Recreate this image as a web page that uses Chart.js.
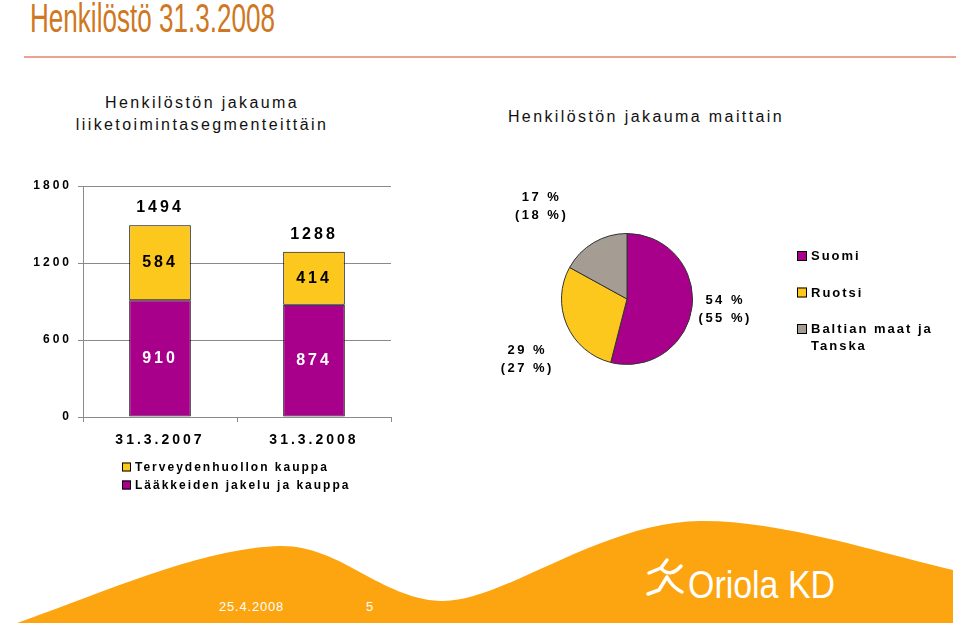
<!DOCTYPE html>
<html>
<head>
<meta charset="utf-8">
<title>Henkilöstö 31.3.2008</title>
<script src="https://cdn.jsdelivr.net/npm/chart.js"></script>
<style>
  html, body { margin: 0; padding: 0; background: #fff; }
  #slide { position: relative; width: 960px; height: 625px; overflow: hidden; font-family: "Liberation Sans", Arial, sans-serif; }
  #title { position: absolute; left: 30px; top: -2px; font-family: "Liberation Sans Narrow", "Liberation Sans", Arial, sans-serif;
           font-size: 40px; line-height: 40px; color: #CF7722; white-space: nowrap; transform-origin: 0 0; }
  #rule { position: absolute; left: 24px; top: 56px; width: 932px; height: 2px; background: #E9A192; }
  .sub { position: absolute; width: 320px; font-size: 16px; line-height: 22px; letter-spacing: 2.4px; color: #111;
         text-align: center; white-space: nowrap; }
  #footer { position: absolute; left: 0; top: 0; }
  .box { position: absolute; }
</style>
</head>
<body>
<div id="slide">
  <svg id="footer" width="960" height="625">
    <path d="M17 623 C90 598 200 548 280 546 C340 545 380 598 440 601 C500 604 600 522 700 521 C780 520 880 553 953 570 L953 623 Z" fill="#FCA510"/>
    <path d="M649 573 L661 568 L667 560 M661 568 C667 576 675 573 681 566 M667 577 L659 590 L648 594 M667 577 C671 585 676 589 682 592"
          stroke="#fff" stroke-width="3.5" fill="none" stroke-linecap="round" stroke-linejoin="round"/>
    <text x="688" y="598" font-size="38" textLength="147" lengthAdjust="spacingAndGlyphs" fill="#fff"
          font-family="'Liberation Sans Narrow', 'Liberation Sans', Arial, sans-serif">Oriola KD</text>
    <text x="219" y="611" font-size="13" letter-spacing="0.8" fill="#fff" font-family="'Liberation Sans', Arial, sans-serif">25.4.2008</text>
    <text x="366" y="611" font-size="13" fill="#fff" font-family="'Liberation Sans', Arial, sans-serif">5</text>
  </svg>

  <div id="title">Henkilöstö 31.3.2008</div>
  <div id="rule"></div>
  <div class="sub" style="left:42px; top:92px;">Henkilöstön jakauma<br>liiketoimintasegmenteittäin</div>
  <div class="sub" style="left:486px; top:106px;">Henkilöstön jakauma maittain</div>

  <div class="box" style="left:0; top:170px;"><canvas id="staffChart" width="400" height="330"></canvas></div>
  <div class="box" style="left:480px; top:170px;"><canvas id="countryChart" width="480" height="260"></canvas></div>
</div>

<script>
// numbers
const barDates = ["31.3.2007", "31.3.2008"];
const segmentNames = ["Lääkkeiden jakelu ja kauppa", "Terveydenhuollon kauppa"];
const distributionStaff = [910, 874];
const healthcareStaff = [584, 414];
const staffTicks = [0, 600, 1200, 1800];

const countryNames = [["Suomi"], ["Ruotsi"], ["Baltian maat ja", "Tanska"]];
const countryShare2008 = [54, 29, 17];
const countryShare2007 = [55, 27, 18];

const PURPLE = "#A8008A";
const YELLOW = "#FDC81E";
const GREY = "#A59C93";
const AXIS = "#8a8a8a";
const FONT = '"Liberation Sans", Arial, sans-serif';

// squeeze the title to the narrow look of the slide
const titleEl = document.getElementById("title");
titleEl.style.transform = "scaleX(" + (245 / titleEl.offsetWidth) + ")";

function spacing(ctx, px) {
  if ("letterSpacing" in ctx) ctx.letterSpacing = px;
}

const spacedTicks = {
  id: "spacedTicks",
  beforeDraw(chart) { spacing(chart.ctx, "3px"); },
  afterDraw(chart) { spacing(chart.ctx, "0px"); }
};

const barLabels = {
  id: "barLabels",
  afterDatasetsDraw(chart) {
    const ctx = chart.ctx;
    const sets = chart.data.datasets;
    ctx.save();
    spacing(ctx, "3px");
    ctx.font = "bold 16px " + FONT;
    ctx.textAlign = "center";
    sets.forEach((ds, di) => {
      chart.getDatasetMeta(di).data.forEach((bar, i) => {
        ctx.fillStyle = ds.labelColor;
        ctx.textBaseline = "middle";
        ctx.fillText(String(ds.data[i]), bar.x, (bar.y + bar.base) / 2);
      });
    });
    // totals on top of each stack
    chart.getDatasetMeta(sets.length - 1).data.forEach((bar, i) => {
      const total = sets.reduce((s, ds) => s + ds.data[i], 0);
      ctx.fillStyle = "#000";
      ctx.textBaseline = "alphabetic";
      ctx.fillText(String(total), bar.x, bar.y - 13);
    });

    // legend under the axis, top segment first
    spacing(ctx, "2px");
    ctx.font = "bold 12px " + FONT;
    ctx.textAlign = "left";
    ctx.textBaseline = "middle";
    sets.slice().reverse().forEach((ds, k) => {
      const y = chart.chartArea.bottom + 50 + k * 18;
      ctx.fillStyle = ds.backgroundColor;
      ctx.fillRect(122, y - 4.5, 9, 9);
      ctx.strokeStyle = "#000";
      ctx.lineWidth = 1;
      ctx.strokeRect(122.5, y - 4, 8, 8);
      ctx.fillStyle = "#000";
      ctx.fillText(ds.label, 135, y + 0.5);
    });
    ctx.restore();
  }
};

new Chart(document.getElementById("staffChart"), {
  type: "bar",
  data: {
    labels: barDates,
    datasets: [
      {
        label: segmentNames[0],
        data: distributionStaff,
        backgroundColor: PURPLE,
        labelColor: "#fff",
        borderColor: "#000",
        borderWidth: 1,
        borderSkipped: false,
        categoryPercentage: 1,
        barPercentage: 0.4,
      },
      {
        label: segmentNames[1],
        data: healthcareStaff,
        backgroundColor: YELLOW,
        labelColor: "#000",
        borderColor: "#000",
        borderWidth: 1,
        borderSkipped: false,
        categoryPercentage: 1,
        barPercentage: 0.4,
      },
    ],
  },
  options: {
    responsive: false,
    animation: false,
    layout: { padding: { top: 16, right: 9, left: 0, bottom: 0 } },
    plugins: { legend: { display: false }, tooltip: { enabled: false } },
    scales: {
      x: {
        stacked: true,
        grid: { drawOnChartArea: false, color: AXIS, tickLength: 5 },
        border: { color: AXIS },
        ticks: { color: "#000", font: { family: FONT, size: 14, weight: "bold" }, padding: 10 },
        afterFit: (s) => { s.height = 83; },
      },
      y: {
        stacked: true,
        min: staffTicks[0],
        max: staffTicks[staffTicks.length - 1],
        afterBuildTicks: (s) => { s.ticks = staffTicks.map((v) => ({ value: v })); },
        grid: { color: AXIS, tickLength: 5 },
        border: { color: AXIS },
        ticks: {
          color: "#000",
          font: { family: FONT, size: 12, weight: "bold" },
          padding: 6,
          callback: (v) => String(v),
        },
        afterFit: (s) => { s.width = 83; },
      },
    },
  },
  plugins: [spacedTicks, barLabels],
});

// hand-tuned shifts so the pie labels sit where the slide has them
const pieLabelNudge = [[-2, -1], [-7, 23], [-34, -12]];

const pieLabels = {
  id: "pieLabels",
  afterDatasetsDraw(chart) {
    const ctx = chart.ctx;
    const ds = chart.data.datasets[0];
    ctx.save();
    spacing(ctx, "2.5px");
    ctx.font = "bold 13px " + FONT;
    ctx.fillStyle = "#000";
    ctx.textAlign = "center";
    ctx.textBaseline = "middle";
    chart.getDatasetMeta(0).data.forEach((arc, i) => {
      const mid = (arc.startAngle + arc.endAngle) / 2;
      const dx = Math.cos(mid), dy = Math.sin(mid);
      const w = 51, h = 36;
      const cx = arc.x + dx * (arc.outerRadius + 10) + dx * w / 2 + pieLabelNudge[i][0];
      const cy = arc.y + dy * (arc.outerRadius + 10) + dy * h / 2 + pieLabelNudge[i][1];
      ctx.fillText(ds.data[i] + " %", cx, cy - 9);
      ctx.fillText("(" + countryShare2007[i] + " %)", cx, cy + 9);
    });

    // legend on the right
    spacing(ctx, "2px");
    ctx.textAlign = "left";
    chart.data.labels.forEach((lines, i) => {
      const y = 86 + i * 36.5;
      ctx.fillStyle = ds.backgroundColor[i];
      ctx.fillRect(317, y - 5, 10, 10);
      ctx.strokeStyle = "#000";
      ctx.lineWidth = 1;
      ctx.strokeRect(317.5, y - 4.5, 9, 9);
      ctx.fillStyle = "#000";
      lines.forEach((t, j) => ctx.fillText(t, 331, y + 0.5 + j * 17));
    });
    ctx.restore();
  }
};

new Chart(document.getElementById("countryChart"), {
  type: "pie",
  data: {
    labels: countryNames,
    datasets: [{
      data: countryShare2008,
      backgroundColor: [PURPLE, YELLOW, GREY],
      borderColor: "#333",
      borderWidth: 1,
    }],
  },
  options: {
    responsive: false,
    animation: false,
    layout: { padding: { left: 81, top: 63, right: 267, bottom: 65 } },
    plugins: { legend: { display: false }, tooltip: { enabled: false } },
  },
  plugins: [pieLabels],
});
</script>
</body>
</html>
